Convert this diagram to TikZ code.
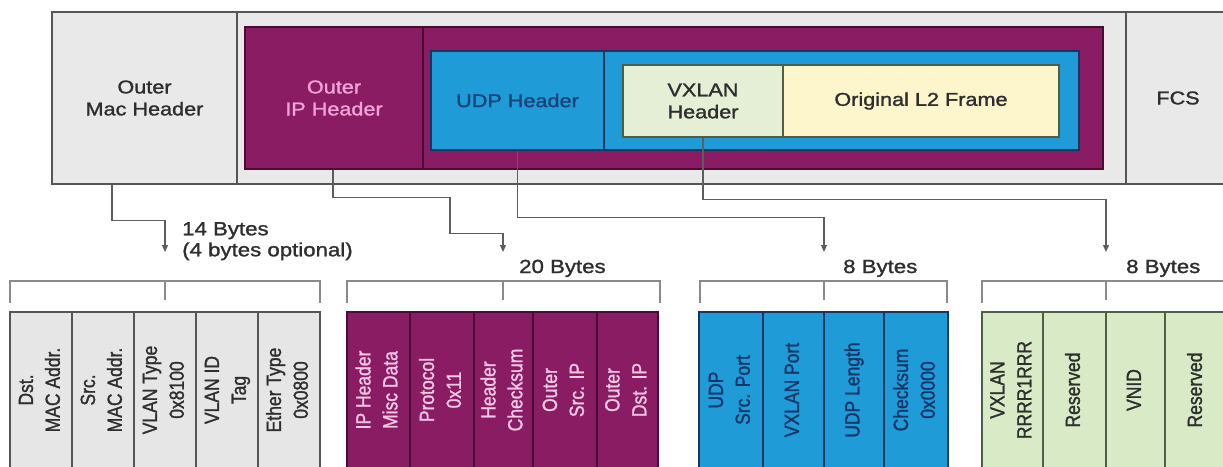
\documentclass[tikz,border=0pt]{standalone}
\usepackage{graphicx}
\usepackage{fontspec}
\setmainfont[FakeBold=1.4]{Liberation Sans}
\newfontfamily\hfont[FakeStretch=1.17,FakeBold=1.4]{Liberation Sans}
\usetikzlibrary{arrows.meta}
\definecolor{framegray}{HTML}{E9E9E9}
\definecolor{fieldgray}{HTML}{E6E6E6}
\definecolor{edgegray}{HTML}{555555}
\definecolor{ipurple}{HTML}{8A1C64}
\definecolor{purpleedge}{HTML}{4A0B34}
\definecolor{udpblue}{HTML}{1F9BD7}
\definecolor{blueedge}{HTML}{16365F}
\definecolor{vxgreen}{HTML}{E4EFD5}
\definecolor{fieldgreen}{HTML}{D9EBC6}
\definecolor{greenedge}{HTML}{4F5F45}
\definecolor{l2yellow}{HTML}{FDF5CB}
\definecolor{pinktext}{HTML}{F4A3D8}
\definecolor{pinkfield}{HTML}{F2C8E4}
\definecolor{bluetext}{HTML}{17437A}
\definecolor{navytext}{HTML}{123668}
\definecolor{darktext}{HTML}{2E2E2E}
\definecolor{linegray}{HTML}{5E5E5E}
\definecolor{bracketgray}{HTML}{8A8A8A}
\newcommand\vlabel[1]{\scalebox{1.17}[1]{\rotatebox{90}{\begin{tabular}{@{}c@{}}#1\end{tabular}}}}
\newcommand\pktbox[7]{\node[#1, minimum width={(#4-#3)*1pt}, minimum height={(#6-#5)*1pt}] (#2) at ({(#3+#4)/2},{(#5+#6)/2}) {#7};}
\newcommand\pktfield[5]{\node[#1, minimum width={(#4-#3)*1pt}] (#2) at ({(#3+#4)/2},390) {\vlabel{#5}};}
\tikzset{
  topbox/.style={rectangle, inner sep=0pt, align=center, line width=1.4pt,
    font=\hfont\fontsize{18.5}{22}\selectfont},
  graybox/.style={topbox, fill=framegray, draw=edgegray, text=darktext},
  purplebox/.style={topbox, fill=ipurple, draw=purpleedge, line width=1.2pt, text=pinktext},
  bluebox/.style={topbox, fill=udpblue, draw=blueedge, line width=1.2pt, text=bluetext},
  greenbox/.style={topbox, fill=vxgreen, draw=greenedge, line width=1.1pt, text=darktext},
  yellowbox/.style={topbox, fill=l2yellow, draw=greenedge, line width=1.1pt, text=darktext},
  field/.style={rectangle, inner sep=0pt, minimum height=156pt, line width=1.2pt,
    font=\fontsize{17.5}{23}\selectfont},
  macfield/.style={field, fill=fieldgray, draw=edgegray, text=darktext},
  ipfield/.style={field, fill=ipurple, draw=purpleedge, text=pinkfield},
  udpfield/.style={field, fill=udpblue, draw=blueedge, text=navytext},
  vxfield/.style={field, fill=fieldgreen, draw=greenedge, text=darktext},
  conn/.style={draw=linegray, line width=1.3pt, -{Triangle[width=6pt,length=7pt]}},
  brace/.style={draw=bracketgray, line width=1.5pt},
  bytes/.style={inner sep=0pt, text=darktext, font=\hfont\fontsize{19}{21}\selectfont},
}
\begin{document}
\begin{tikzpicture}[x=1pt, y=-1pt]
\useasboundingbox (0,0) rectangle (1223,466);
\clip (0,0) rectangle (1223,466);
% top frame
\pktbox{graybox}{machdr}{52}{237}{12}{184}{Outer\\Mac Header}
\pktbox{graybox}{payload}{237}{1126}{12}{184}{}
\pktbox{graybox}{fcs}{1126}{1245}{12}{184}{}
\node[topbox, text=darktext] (fcslabel) at (1178,98) {FCS};
\pktbox{purplebox}{iphdr}{245}{423}{27}{169}{Outer\\IP Header}
\pktbox{purplebox}{ipbody}{423}{1103}{27}{169}{}
\pktbox{bluebox}{udphdr}{431}{604}{51}{150}{UDP Header}
\pktbox{bluebox}{udpbody}{604}{1079}{51}{150}{}
\pktbox{greenbox}{vxhdr}{623}{783}{65}{137}{VXLAN\\Header}
\pktbox{yellowbox}{l2frame}{783}{1059}{65}{137}{Original L2 Frame}
% arrow targets and bracket joints
\coordinate (macarrow) at (165,252);
\coordinate (iparrow) at (503,252);
\coordinate (udparrow) at (824,252);
\coordinate (vxarrow) at (1106,252);
\coordinate (macjoin) at (165,281);
\coordinate (ipjoin) at (503,281);
\coordinate (udpjoin) at (824,281);
\coordinate (vxjoin) at (1106,281);
% connectors
\draw[conn] ([xshift=-32.5pt]machdr.south) -- ++(0,36) -| (macarrow);
\draw[conn] ([xshift=-1pt]iphdr.south) -- ++(0,28) -| ++(117,36) -| (iparrow);
\draw[conn] (udphdr.south) -- ++(0,67) -| (udparrow);
\draw[conn] (vxhdr.south) -- ++(0,62) -| (vxarrow);
% brackets
\draw[brace] (10,303) -- (10,281) -- (320,281) -- (320,303);
\draw[brace] ([yshift=-19pt]macjoin) -- (macjoin);
\draw[brace] (347,303) -- (347,281) -- (660,281) -- (660,303);
\draw[brace] ([yshift=-19pt]ipjoin) -- (ipjoin);
\draw[brace] (700,303) -- (700,281) -- (947,281) -- (947,303);
\draw[brace] ([yshift=-19pt]udpjoin) -- (udpjoin);
\draw[brace] (982,303) -- (982,281) -- (1240,281);
\draw[brace] ([yshift=-19pt]vxjoin) -- (vxjoin);
% byte labels
\node[bytes, anchor=north west, align=left] (macbytes) at (182,222) {14 Bytes\\(4 bytes optional)};
\node[bytes, anchor=base west] (ipbytes) at (519,273) {20 Bytes};
\node[bytes, anchor=base west] (udpbytes) at (843,273) {8 Bytes};
\node[bytes, anchor=base west] (vxbytes) at (1126,273) {8 Bytes};
% fields
\pktfield{macfield}{mac1}{10}{72}{Dst.\\MAC Addr.}
\pktfield{macfield}{mac2}{72}{134}{Src.\\MAC Addr.}
\pktfield{macfield}{mac3}{134}{196}{VLAN Type\\0x8100}
\pktfield{macfield}{mac4}{196}{258}{VLAN ID\\Tag}
\pktfield{macfield}{mac5}{258}{320}{Ether Type\\0x0800}
\pktfield{ipfield}{ip1}{347}{410}{IP Header\\Misc Data}
\pktfield{ipfield}{ip2}{410}{474}{Protocol\\0x11}
\pktfield{ipfield}{ip3}{474}{533}{Header\\Checksum}
\pktfield{ipfield}{ip4}{533}{597}{Outer\\Src. IP}
\pktfield{ipfield}{ip5}{597}{658}{Outer\\Dst. IP}
\pktfield{udpfield}{udp1}{699}{763}{UDP\\Src. Port}
\pktfield{udpfield}{udp2}{763}{824}{VXLAN Port}
\pktfield{udpfield}{udp3}{824}{884}{UDP Length}
\pktfield{udpfield}{udp4}{884}{948}{Checksum\\0x0000}
\pktfield{vxfield}{vx1}{982}{1043}{VXLAN\\RRRR1RRR}
\pktfield{vxfield}{vx2}{1043}{1106}{Reserved}
\pktfield{vxfield}{vx3}{1106}{1165}{VNID}
\pktfield{vxfield}{vx4}{1165}{1228}{Reserved}
\end{tikzpicture}
\end{document}
